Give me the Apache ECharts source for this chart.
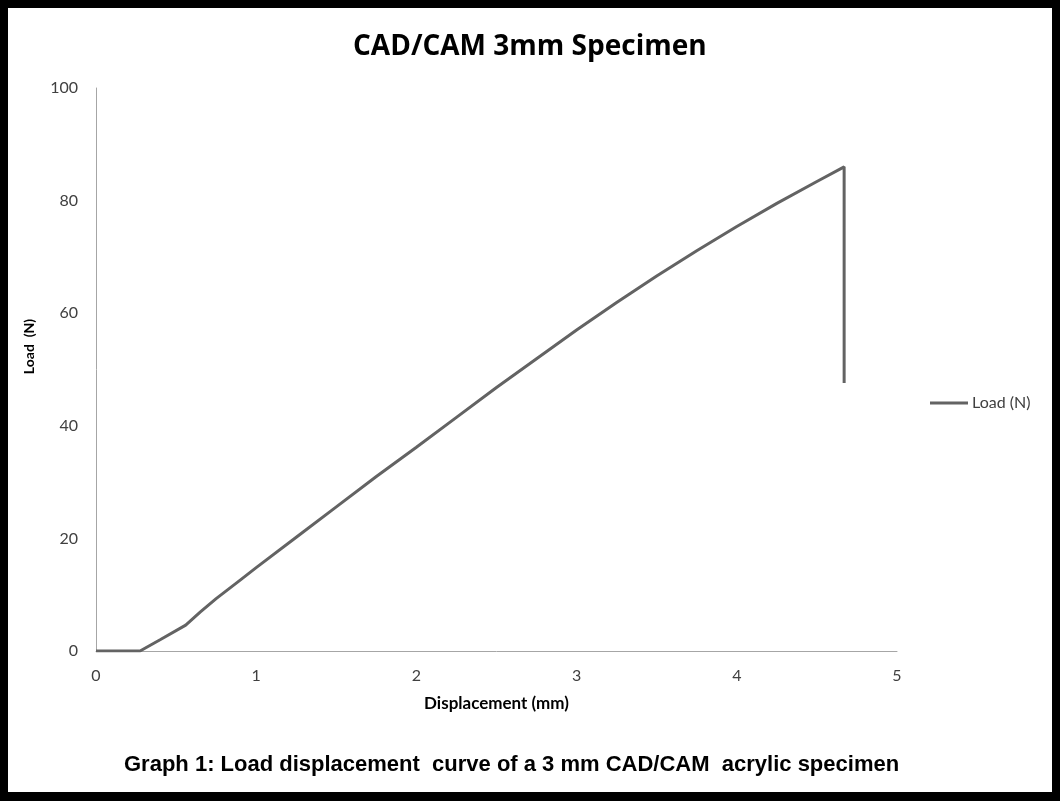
<!DOCTYPE html>
<html>
<head>
<meta charset="utf-8">
<script src="https://cdn.jsdelivr.net/npm/echarts@6/dist/echarts.min.js"></script>
<style>
  html, body { margin: 0; padding: 0; background: #000; }
  #frame { position: relative; width: 1060px; height: 801px; background: #000; }
  #chart { position: absolute; left: 8px; top: 8px; width: 1044px; height: 784px; background: #fff; }
</style>
</head>
<body>
<div id="frame"><div id="chart"></div></div>
<script>
// displacement (mm) and load (N)
const displacement = [0, 0.275, 0.4, 0.56, 0.65, 0.75, 0.9, 1.0, 1.25, 1.5, 1.75, 2.0, 2.25, 2.5, 2.75, 3.0, 3.25, 3.5, 3.75, 4.0, 4.25, 4.5, 4.67, 4.67]
const load = [0, 0, 2.0, 4.6, 6.9, 9.3, 12.6, 14.8, 20.2, 25.6, 31.0, 36.2, 41.5, 46.8, 51.9, 57.0, 61.9, 66.6, 71.1, 75.4, 79.5, 83.4, 86.0, 47.6]
const xTicks = [0, 1, 2, 3, 4, 5]
const yTicks = [0, 20, 40, 60, 80, 100]

const points = displacement.map((d, i) => [d, load[i]])

let myChart = echarts.init(document.getElementById('chart'))
myChart.setOption({
    animation: false,
    title: [
        {
            text: 'CAD/CAM 3mm Specimen',
            left: 340,
            top: 20,
            textStyle: { fontFamily: 'Open Sans', fontWeight: 'bold', fontSize: 28, color: '#000' }
        },
        {
            text: 'Graph 1: Load displacement  curve of a 3 mm CAD/CAM  acrylic specimen',
            left: 111,
            top: 741,
            textStyle: { fontFamily: 'Liberation Sans', fontWeight: 'bold', fontSize: 22, color: '#000' }
        }
    ],
    legend: {
        data: ['Load (N)'],
        left: 917,
        top: 382,
        itemWidth: 38,
        itemHeight: 3,
        itemGap: 4,
        icon: 'rect',
        textStyle: { fontFamily: 'Lato', fontSize: 16, color: '#404040', padding: [0, 0, 0, -1] }
    },
    grid: {
        left: 88,
        right: 155,
        top: 80,
        bottom: 141
    },
    xAxis: {
        type: 'value',
        min: 0,
        max: 5,
        interval: 1,
        name: 'Displacement (mm)',
        nameLocation: 'middle',
        nameGap: 44,
        nameTextStyle: { fontFamily: 'Lato', fontWeight: 'bold', fontSize: 17, color: '#000' },
        axisLine: { show: true, onZero: false, lineStyle: { color: '#a6a6a6', width: 1 } },
        axisTick: { show: false },
        splitLine: { show: false },
        axisLabel: {
            margin: 17,
            fontFamily: 'Lato',
            fontSize: 16,
            color: '#404040',
            formatter: v => xTicks.includes(v) ? String(v) : ''
        }
    },
    yAxis: {
        type: 'value',
        min: 0,
        max: 100,
        interval: 20,
        name: 'Load  (N)',
        nameLocation: 'middle',
        nameGap: 60,
        nameTextStyle: { fontFamily: 'Lato', fontWeight: 'bold', fontSize: 14, color: '#000', padding: [0, 0, 0, 46] },
        axisLine: { show: true, lineStyle: { color: '#a6a6a6', width: 1 } },
        axisTick: { show: false },
        splitLine: { show: false },
        axisLabel: {
            margin: 18,
            fontFamily: 'Lato',
            fontSize: 16,
            color: '#404040',
            formatter: v => yTicks.includes(v) ? String(v) : ''
        }
    },
    series: [
        {
            name: 'Load (N)',
            type: 'line',
            data: points,
            showSymbol: false,
            symbol: 'none',
            lineStyle: { color: '#636363', width: 3 },
            itemStyle: { color: '#636363' }
        }
    ]
})
window.addEventListener('resize', function() {
    myChart.resize()
})
</script>
</body>
</html>
